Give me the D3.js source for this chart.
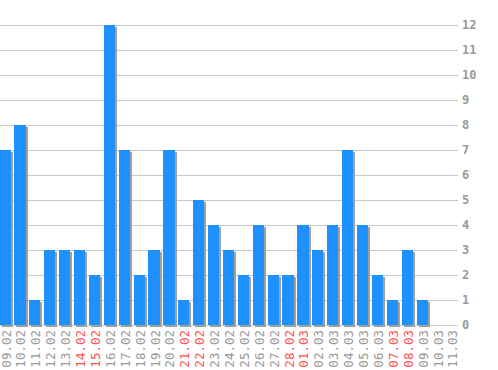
<!DOCTYPE html>
<html>
<head>
<meta charset="utf-8">
<script src="https://cdn.jsdelivr.net/npm/d3@7"></script>
<style>
  body { margin: 0; background: #fff; }
  svg { display: block; }
  text { font-family: "DejaVu Sans Mono", monospace; }
</style>
</head>
<body>
<svg width="498" height="370"></svg>
<script>
// dates shown on the x axis
var days = ["09.02","10.02","11.02","12.02","13.02","14.02","15.02","16.02","17.02","18.02",
            "19.02","20.02","21.02","22.02","23.02","24.02","25.02","26.02","27.02","28.02",
            "01.03","02.03","03.03","04.03","05.03","06.03","07.03","08.03","09.03","10.03","11.03"]
// count per day
var counts = [7,8,1,3,3,3,2,12,7,2,3,7,1,5,4,3,2,4,2,2,4,3,4,7,4,2,1,3,1,0,0]
// weekend days printed in red
var weekends = ["14.02","15.02","21.02","22.02","28.02","01.03","07.03","08.03"]
var yTicks = [0,1,2,3,4,5,6,7,8,9,10,11,12]

var svg = d3.select("svg")
var margins = {left:0, right:40, top:25, bottom:45}
var graph = {width:458, height:300}

var xScale = d3.scaleBand()
    .domain(days)
    .range([0, graph.width])
    .paddingInner(0.25)
    .paddingOuter(0)
    .align(0)

var yScale = d3.scaleLinear()
    .domain([0,12])
    .range([margins.top+graph.height, margins.top])

// grid lines + right labels
var yAxis = d3.axisRight(yScale)
    .tickValues(yTicks)
    .tickSize(graph.width)
    .tickPadding(4)
    .tickFormat(d3.format("d"))

var axisG = svg.append("g")
    .call(yAxis)
axisG.select(".domain").remove()
axisG.selectAll("line")
    .attr("stroke","#c8c8c8")
    .attr("shape-rendering","crispEdges")
axisG.selectAll("text")
    .attr("fill","#999999")
    .style("font-size","12px")
    .style("font-weight","bold")

var bars = svg.append("g")

var barW = xScale.bandwidth()

// shadows first
bars.selectAll("rect.shadow")
    .data(counts)
    .enter()
    .append("rect")
    .classed("shadow",true)
    .attr("x",function(d,i){ return xScale(days[i]) - 0.5 + 2 })
    .attr("y",function(d){ return yScale(d) + 1.5 })
    .attr("width",barW)
    .attr("height",function(d){ return d>0 ? yScale(0)-yScale(d) : 0 })
    .attr("fill","#a0a0a0")
    .attr("shape-rendering","crispEdges")

bars.selectAll("rect.bar")
    .data(counts)
    .enter()
    .append("rect")
    .classed("bar",true)
    .attr("x",function(d,i){ return xScale(days[i]) - 0.5 })
    .attr("y",function(d){ return yScale(d) })
    .attr("width",barW)
    .attr("height",function(d){ return yScale(0)-yScale(d) })
    .attr("fill","#1e90ff")
    .attr("shape-rendering","crispEdges")

// rotated date labels
var labels = svg.append("g")
labels.selectAll("text")
    .data(days)
    .enter()
    .append("text")
    .text(function(d){ return d })
    .attr("text-anchor","end")
    .style("font-size","12.5px")
    .attr("transform",function(d){
        var x = xScale(d) - 0.5 + barW/2 + 5.5
        return "translate("+x+","+(margins.top+graph.height+5)+") rotate(-90)"
    })
    .attr("fill",function(d){ return weekends.indexOf(d)>=0 ? "#ff5050" : "#999999" })
</script>
</body>
</html>
